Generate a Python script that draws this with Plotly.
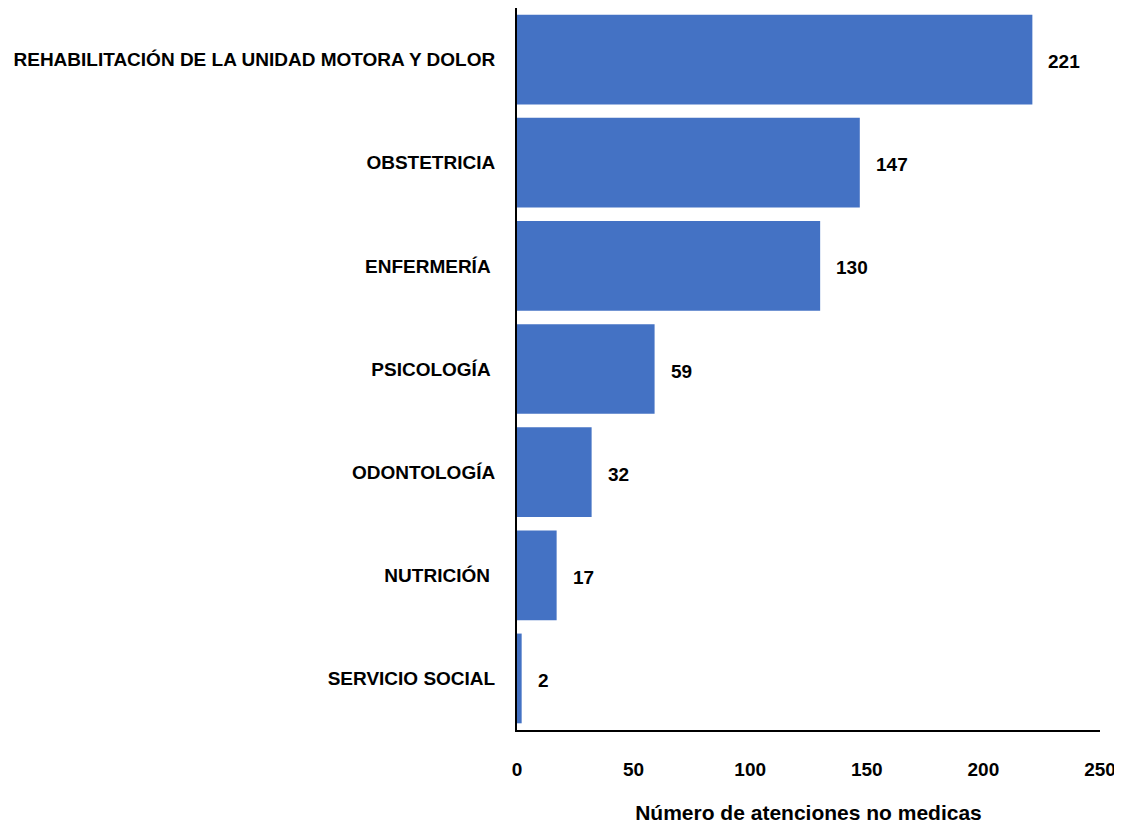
import plotly.graph_objects as go

categories = ["REHABILITACIÓN DE LA UNIDAD MOTORA Y DOLOR", "OBSTETRICIA", "ENFERMERÍA ",
              "PSICOLOGÍA ", "ODONTOLOGÍA", "NUTRICIÓN ", "SERVICIO SOCIAL"]
values = [221, 147, 130, 59, 32, 17, 2]
x_ticks = [0, 50, 100, 150, 200, 250]

FONT = "Liberation Sans, Arial, sans-serif"
BLUE = "#4472C4"

fig = go.Figure()
fig.add_trace(go.Bar(
    y=categories, x=values, orientation="h",
    marker=dict(color=BLUE, line=dict(width=0)),
    hoverinfo="x+y",
))

for c, v in zip(categories, values):
    fig.add_annotation(x=v, y=c, text=f"<b>{v}</b>", showarrow=False,
                       xanchor="left", xshift=14, yshift=-2,
                       font=dict(family=FONT, size=19, color="black"))

# page body has an 8px default margin, so offsets are reduced by 8
fig.update_layout(
    width=1114, height=822,
    margin=dict(l=509, r=22, t=0, b=100),
    paper_bgcolor="white", plot_bgcolor="white",
    bargap=0.13,
    showlegend=False,
    font=dict(family=FONT, size=19, color="black"),
)
fig.update_xaxes(
    range=[0, 250], tickvals=x_ticks, ticktext=[f"<b>{t}</b>" for t in x_ticks],
    showgrid=False, zeroline=False, automargin=False,
    showline=True, linecolor="black", linewidth=2,
    ticks="", ticklabelstandoff=21,
    title=dict(text="<b>Número de atenciones no medicas</b>", font=dict(size=21), standoff=27),
    tickfont=dict(size=19),
)
fig.update_yaxes(
    categoryorder="array", categoryarray=categories[::-1],
    tickvals=categories, ticktext=[f"<b>{c}</b>" for c in categories],
    showgrid=False, zeroline=False, automargin=False,
    showline=True, linecolor="black", linewidth=2,
    ticks="", ticklabelstandoff=16,
    tickfont=dict(size=19),
)

fig.write_html("out.html")
